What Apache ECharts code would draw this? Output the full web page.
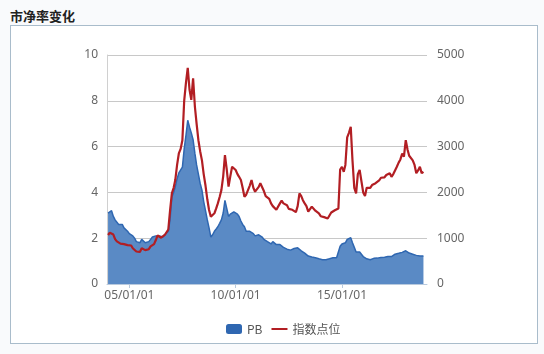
<!DOCTYPE html>
<html>
<head>
<meta charset="utf-8">
<title>市净率变化</title>
<script src="https://cdn.jsdelivr.net/npm/echarts@6/dist/echarts.min.js"></script>
<style>
    html, body {
        margin: 0;
        padding: 0;
        width: 544px;
        height: 354px;
        background: #f9fafc;
        overflow: hidden;
        font-family: "Noto Sans CJK SC", "Noto Sans", sans-serif;
    }

    .title {
        position: absolute;
        left: 10px;
        top: 6px;
        font-size: 13px;
        font-weight: bold;
        color: #222;
    }

    .frame {
        position: absolute;
        left: 10px;
        top: 25px;
        width: 526px;
        height: 317px;
        background: #fff;
        border: 1px solid #a9bccb;
    }

    #chart {
        position: absolute;
        left: 0;
        top: 0;
        width: 544px;
        height: 354px;
    }
</style>
</head>
<body>
<div class="title">市净率变化</div>
<div class="frame"></div>
<div id="chart"></div>
<script>
    // 月度数据，从 2004 年 1 月开始
    var startYear = 2004;
    var xLabelYears = [2005, 2010, 2015];

    var pbValues = [
        // 2004
        3.1, 3.15, 3.2, 2.95, 2.8, 2.7, 2.6, 2.55, 2.6, 2.45, 2.4, 2.3,
        // 2005
        2.2, 2.25, 2.1, 2.0, 1.85, 1.85, 1.8, 1.95, 1.9, 1.8, 1.75, 1.85,
        // 2006
        1.95, 2.05, 2.0, 2.1, 2.15, 2.1, 2.1, 2.05, 2.15, 2.2, 2.3, 2.8,
        // 2007
        3.8, 4.0, 4.25, 4.6, 4.85, 4.9, 5.1, 5.9, 6.5, 7.15, 6.85, 6.6,
        // 2008
        6.3, 5.7, 5.2, 4.8, 4.4, 4.1, 3.6, 3.2, 2.8, 2.45, 2.05, 2.15,
        // 2009
        2.3, 2.4, 2.5, 2.65, 2.8, 3.1, 3.65, 3.3, 2.95, 3.05, 3.1, 3.15,
        // 2010
        3.15, 3.05, 2.95, 2.75, 2.6, 2.5, 2.3, 2.22, 2.3, 2.36, 2.2, 2.1,
        // 2011
        2.1, 2.15, 2.1, 2.05, 1.95, 1.9, 1.85, 1.8, 1.75, 1.85, 1.8, 1.72,
        // 2012
        1.68, 1.72, 1.65, 1.6, 1.58, 1.52, 1.5, 1.48, 1.5, 1.55, 1.6, 1.58,
        // 2013
        1.5, 1.45, 1.4, 1.35, 1.3, 1.22, 1.2, 1.18, 1.2, 1.15, 1.12, 1.1,
        // 2014
        1.08, 1.06, 1.05, 1.06, 1.05, 1.1, 1.12, 1.15, 1.18, 1.15, 1.2, 1.65,
        // 2015
        1.75, 1.72, 1.8, 1.95, 2.0, 2.02, 1.8, 1.6, 1.4, 1.45, 1.4, 1.35,
        // 2016
        1.2, 1.12, 1.1, 1.08, 1.06, 1.1, 1.12, 1.14, 1.13, 1.15, 1.16, 1.18,
        // 2017
        1.17, 1.18, 1.2, 1.22, 1.2, 1.25, 1.3, 1.32, 1.34, 1.36, 1.38, 1.4,
        // 2018
        1.45, 1.38, 1.35, 1.33, 1.3, 1.28, 1.25, 1.24, 1.22, 1.2, 1.22
    ];

    var indexValues = [
        // 2004
        1070, 1120, 1150, 1080, 980, 930, 900, 880, 910, 870, 880, 850,
        // 2005
        820, 840, 780, 760, 710, 720, 700, 780, 760, 740, 720, 760,
        // 2006
        820, 860, 870, 960, 1060, 1040, 1010, 1000, 1070, 1110, 1190, 1600,
        // 2007
        1980, 2100, 2270, 2600, 2850, 2950, 3140, 4000, 4400, 4720, 4240, 4020,
        // 2008
        4490, 3870, 3500, 3140, 2900, 2700, 2400, 2150, 1850, 1615, 1470, 1500,
        // 2009
        1545, 1650, 1760, 1900, 2050, 2350, 2815, 2500, 2125, 2350, 2560, 2520,
        // 2010
        2490, 2400, 2340, 2270, 2100, 1905, 1950, 1980, 2150, 2270, 2100, 2015,
        // 2011
        2050, 2120, 2200, 2180, 2030, 1920, 1950, 1860, 1760, 1700, 1720, 1620,
        // 2012
        1640, 1760, 1820, 1760, 1800, 1720, 1640, 1600, 1620, 1600, 1570, 1700,
        // 2013
        1980, 1920, 1830, 1760, 1700, 1580, 1620, 1690, 1660, 1600, 1570, 1540,
        // 2014
        1480, 1470, 1460, 1440, 1430, 1470, 1560, 1600, 1610, 1640, 1650, 2500,
        // 2015
        2560, 2450, 2600, 3200, 3300, 3430, 2700, 2100, 1980, 2400, 2490, 2450,
        // 2016
        2000, 1920, 2100, 2120, 2100, 2160, 2180, 2200, 2230, 2260, 2320, 2350,
        // 2017
        2330, 2380, 2400, 2420, 2340, 2400, 2480, 2560, 2650, 2720, 2850, 2780,
        // 2018
        3140, 2930, 2800, 2780, 2700, 2600, 2420, 2480, 2560, 2420, 2450
    ];

    function monthTime(i) {
        return new Date(startYear, i, 1).getTime();
    }

    function pad(n) {
        return (n < 10 ? '0' : '') + n;
    }

    var pbData = pbValues.map(function (v, i) { return [monthTime(i), v]; });
    var indexData = indexValues.map(function (v, i) { return [monthTime(i), v]; });
    var labelTimes = xLabelYears.map(function (y) { return new Date(y, 0, 1).getTime(); });

    var myChart = echarts.init(document.getElementById('chart'));
    var labelStyle = {
        color: '#666',
        fontSize: 12,
        fontFamily: 'Noto Sans'
    };

    var option = {
        animation: false,
        legend: {
            left: 221,
            top: 318,
            itemWidth: 16,
            itemHeight: 10,
            itemGap: 8,
            textStyle: { color: '#555', fontSize: 12, fontFamily: 'Noto Sans CJK SC' },
            data: [
                { name: 'PB', icon: 'roundRect', itemStyle: { color: '#2f67b1' } },
                { name: '指数点位', itemStyle: { opacity: 0 }, lineStyle: { color: '#b21e23', width: 2 } }
            ]
        },
        grid: {
            left: 107,
            top: 55,
            width: 320,
            height: 229,
            containLabel: false
        },
        xAxis: {
            type: 'value',
            min: new Date(2003, 11, 14).getTime(),
            max: new Date(2019, 0, 1).getTime(),
            axisLine: { lineStyle: { color: '#b9cade' } },
            axisTick: {
                show: true,
                length: 4,
                customValues: labelTimes,
                lineStyle: { color: '#b9cade' }
            },
            axisLabel: Object.assign({
                customValues: labelTimes,
                margin: 6,
                formatter: function (v) {
                    var d = new Date(v);
                    return pad(d.getFullYear() % 100) + '/' + pad(d.getMonth() + 1) + '/' + pad(d.getDate());
                }
            }, labelStyle),
            splitLine: { show: false }
        },
        yAxis: [{
            type: 'value',
            min: 0,
            max: 10,
            interval: 2,
            axisLine: { show: true, lineStyle: { color: '#d0d0d0' } },
            axisTick: { show: false },
            axisLabel: Object.assign({ margin: 9 }, labelStyle),
            splitLine: { lineStyle: { color: '#c8c8c8' } }
        }, {
            type: 'value',
            min: 0,
            max: 5000,
            interval: 1000,
            axisLine: { show: false },
            axisTick: { show: false },
            axisLabel: Object.assign({
                margin: 10,
                formatter: function (v) { return String(v); }
            }, labelStyle),
            splitLine: { show: false }
        }],
        series: [{
            name: 'PB',
            type: 'line',
            yAxisIndex: 0,
            data: pbData,
            symbol: 'none',
            lineStyle: { color: '#2f67b1', width: 1.5 },
            itemStyle: { color: '#2f67b1' },
            areaStyle: { color: '#5a8ac5', opacity: 1 }
        }, {
            name: '指数点位',
            type: 'line',
            yAxisIndex: 1,
            data: indexData,
            symbol: 'none',
            lineStyle: { color: '#b21e23', width: 2.2 },
            itemStyle: { color: '#b21e23' }
        }]
    };
    myChart.setOption(option);
</script>
</body>
</html>
